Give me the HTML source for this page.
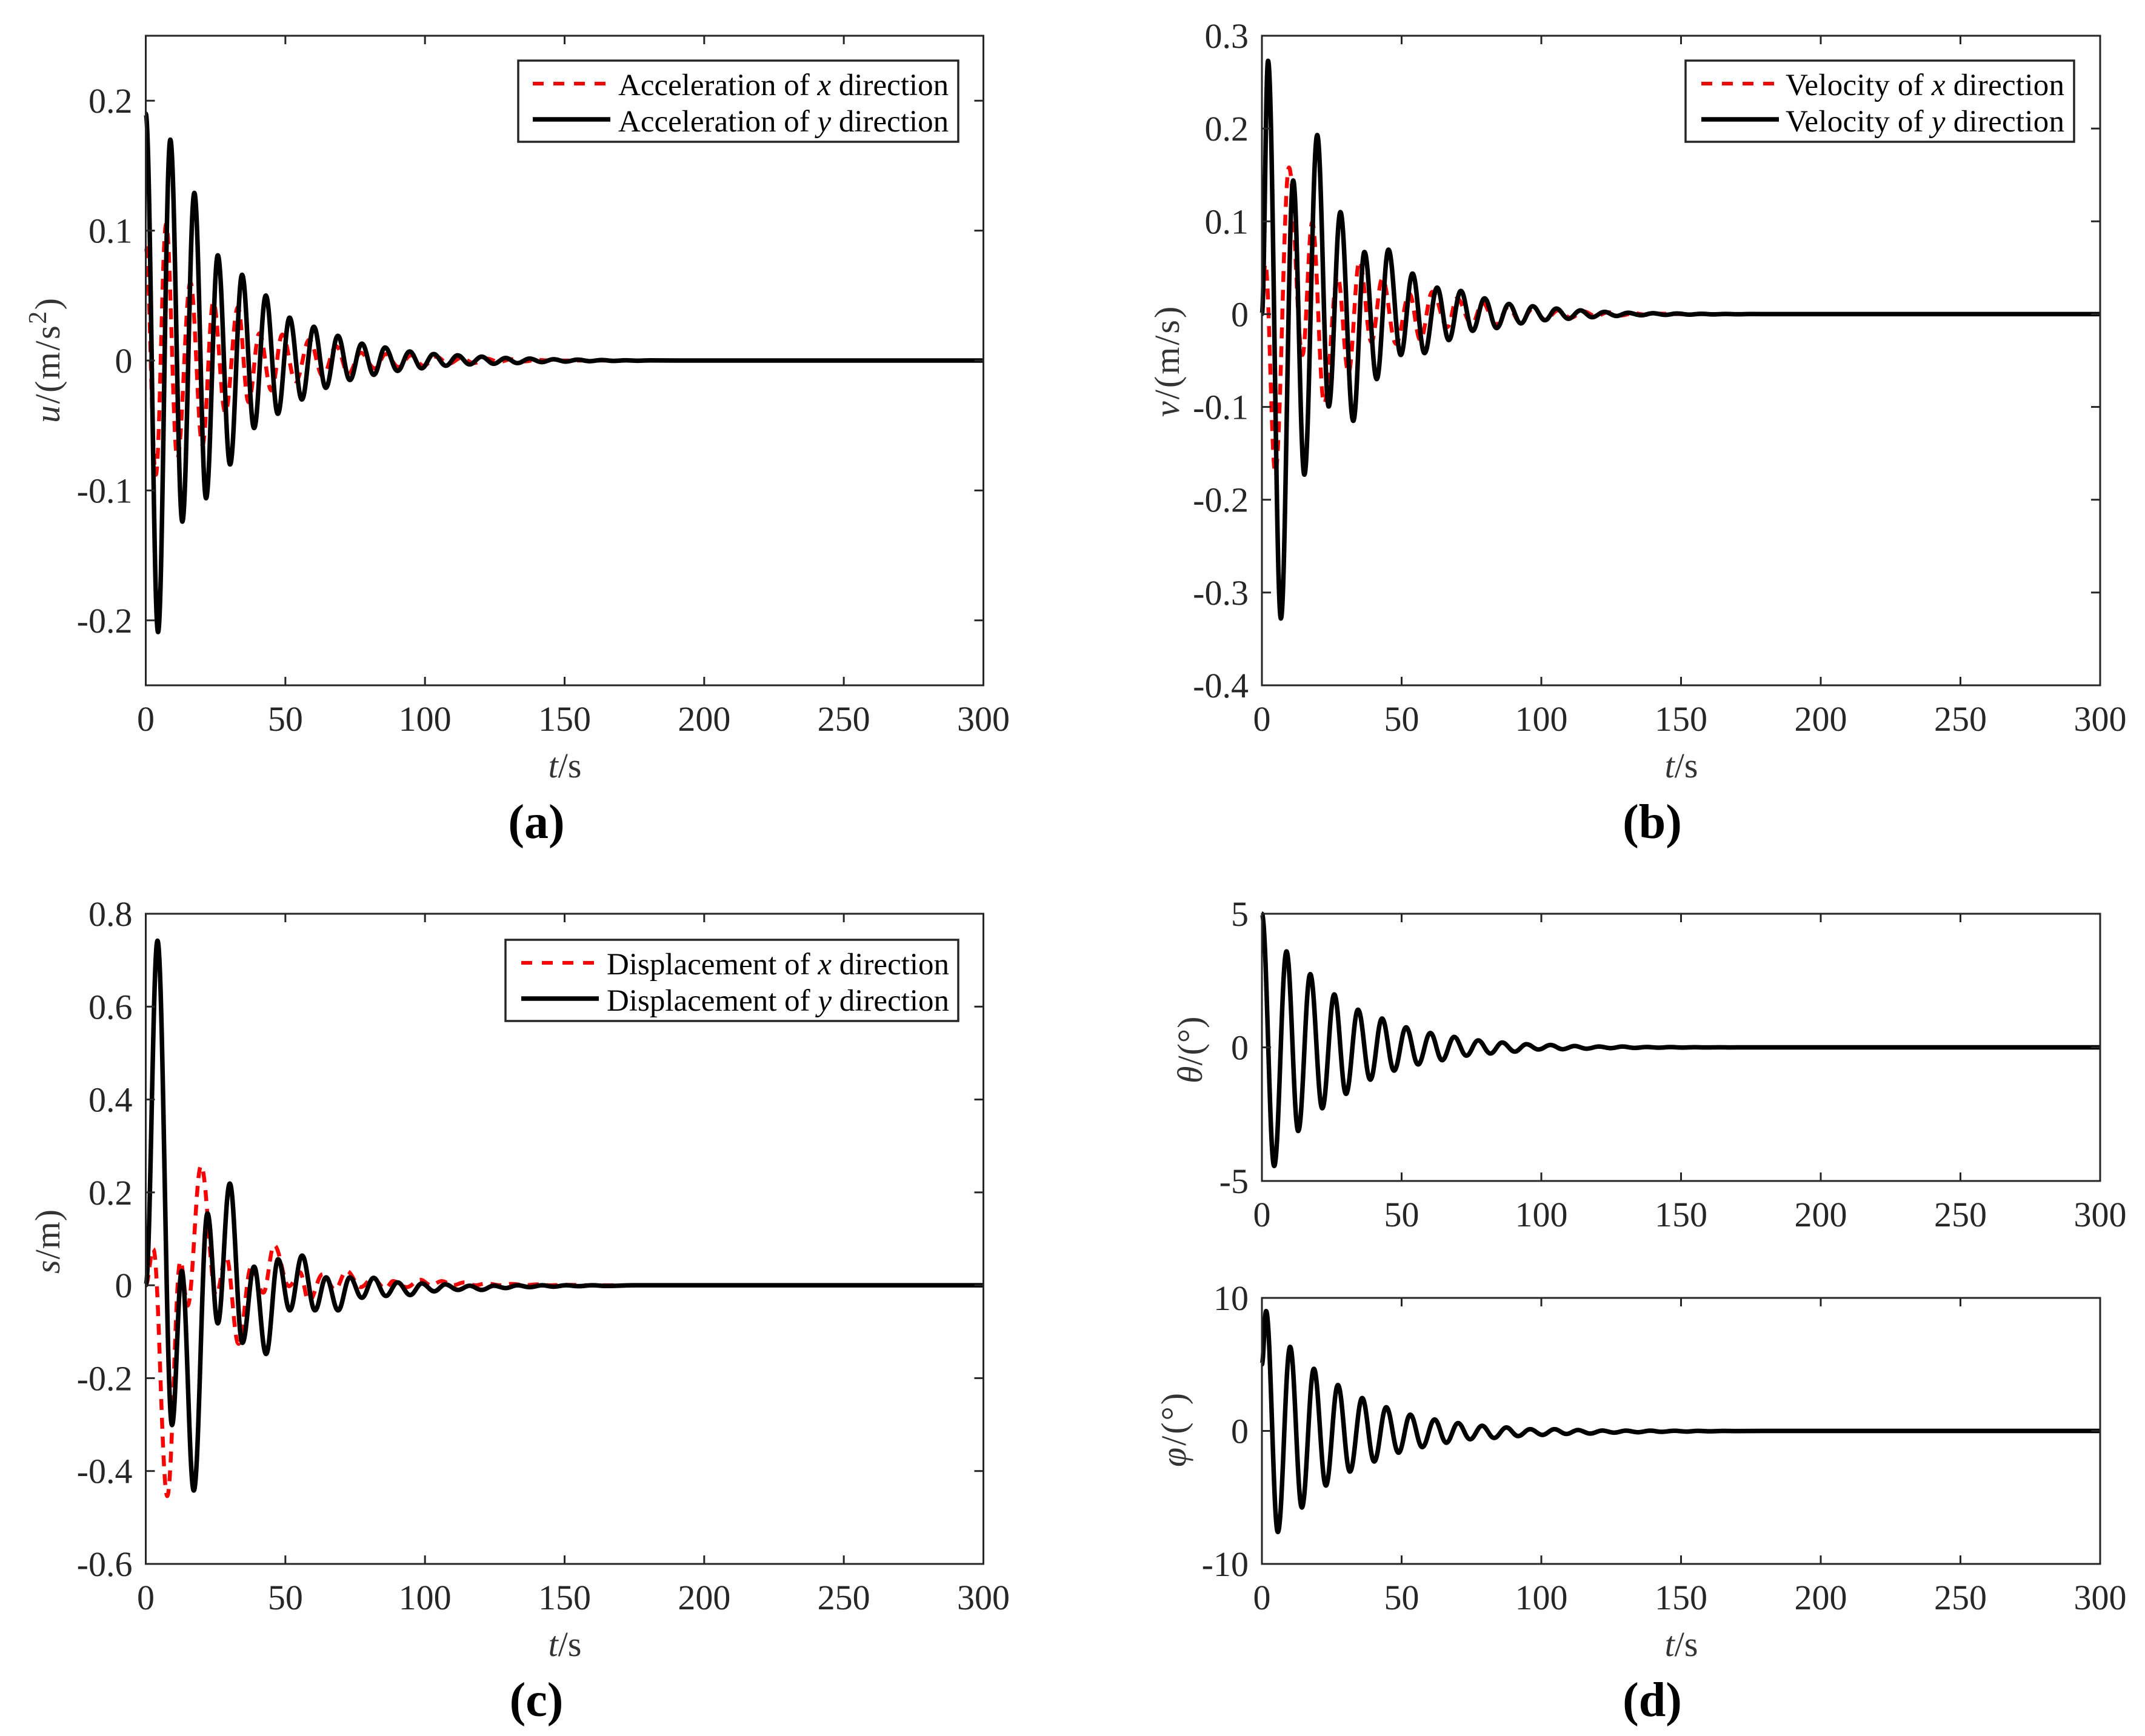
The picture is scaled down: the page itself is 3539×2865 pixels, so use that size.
<!DOCTYPE html>
<html lang="en">
<head>
<meta charset="utf-8">
<title>Damped oscillation responses</title>
<style>
html,body{margin:0;padding:0;background:#fff}
svg{display:block}
text{font-family:"Liberation Serif","Times New Roman",serif}
.tick{font-size:58px;fill:#262626}
.lab{font-size:58px;fill:#333}
.leg{font-size:51px;fill:#000}
.cap{font-size:80px;font-weight:bold;fill:#000}
i,.it{font-style:italic}
</style>
</head>
<body>
<svg id="fig" xmlns="http://www.w3.org/2000/svg" width="3539" height="2865" viewBox="0 0 3539 2865">
<rect x="0" y="0" width="3539" height="2865" fill="#fff"/>
<g id="marks"></g>

<g>
<rect x="855" y="100" width="726" height="134" fill="#fff" stroke="#262626" stroke-width="3.5"/>
<line x1="879" x2="1002" y1="138" y2="138" stroke="#f00" stroke-width="6" stroke-dasharray="18 16"/>
<line x1="879" x2="1007" y1="197" y2="197" stroke="#000" stroke-width="7.5"/>
<text class="leg" x="1020" y="157">Acceleration of <tspan class="it">x</tspan> direction</text>
<text class="leg" x="1020" y="217">Acceleration of <tspan class="it">y</tspan> direction</text>
</g>
<g>
<rect x="2781" y="100" width="641" height="134" fill="#fff" stroke="#262626" stroke-width="3.5"/>
<line x1="2807" x2="2927" y1="138" y2="138" stroke="#f00" stroke-width="6" stroke-dasharray="18 16"/>
<line x1="2807" x2="2935" y1="197" y2="197" stroke="#000" stroke-width="7.5"/>
<text class="leg" x="2946" y="157" textLength="460" lengthAdjust="spacing">Velocity of <tspan class="it">x</tspan> direction</text>
<text class="leg" x="2946" y="217" textLength="460" lengthAdjust="spacing">Velocity of <tspan class="it">y</tspan> direction</text>
</g>
<g>
<rect x="834" y="1551" width="747" height="134" fill="#fff" stroke="#262626" stroke-width="3.5"/>
<line x1="860" x2="983" y1="1589" y2="1589" stroke="#f00" stroke-width="6" stroke-dasharray="18 16"/>
<line x1="860" x2="988" y1="1648" y2="1648" stroke="#000" stroke-width="7.5"/>
<text class="leg" x="1001" y="1608">Displacement of <tspan class="it">x</tspan> direction</text>
<text class="leg" x="1001" y="1668">Displacement of <tspan class="it">y</tspan> direction</text>
</g>

<text class="lab" letter-spacing="2.5" transform="translate(98 698) rotate(-90)"><tspan class="it">u</tspan>/(m/s<tspan dy="-22" font-size="42">2</tspan><tspan dy="22">)</tspan></text>
<text class="lab" letter-spacing="3" transform="translate(1945 688) rotate(-90)"><tspan class="it">v</tspan>/(m/s)</text>
<text class="lab" letter-spacing="1" transform="translate(98 2102) rotate(-90)"><tspan class="it">s</tspan>/m)</text>
<text class="lab" letter-spacing="1" transform="translate(1983 1788) rotate(-90)"><tspan class="it">θ</tspan>/(°)</text>
<text class="lab" letter-spacing="3" transform="translate(1956 2421) rotate(-90)"><tspan class="it">φ</tspan>/(°)</text>

<text class="lab" text-anchor="middle" x="932" y="1283"><tspan class="it">t</tspan>/s</text>
<text class="lab" text-anchor="middle" x="2774" y="1283"><tspan class="it">t</tspan>/s</text>
<text class="lab" text-anchor="middle" x="932" y="2733"><tspan class="it">t</tspan>/s</text>
<text class="lab" text-anchor="middle" x="2774" y="2733"><tspan class="it">t</tspan>/s</text>

<text class="cap" text-anchor="middle" x="885" y="1383">(a)</text>
<text class="cap" text-anchor="middle" x="2726" y="1383">(b)</text>
<text class="cap" text-anchor="middle" x="885" y="2832">(c)</text>
<text class="cap" text-anchor="middle" x="2726" y="2832">(d)</text>
</svg>

<script>
/* Shared x axis */
const xTickLabels = [0, 50, 100, 150, 200, 250, 300];

/* Panel (a): acceleration, turning points */
const accelYTicks = [-0.2, -0.1, 0, 0.1, 0.2];
const accelXTimes = [0,3.6,7.3,11.3,16,20.3,24.2,28.5,33,36.8,40.7,45,48.9,53.7,58.6,63.4,68.2,72.6,77,82,86,90.5,95,99.5,104,108.5,113,117.5,122,126.5,131,135.5,140,145,300];
const accelXValues = [0.087,-0.088,0.105,-0.075,0.06,-0.065,0.045,-0.04,0.041,-0.032,0.021,-0.023,0.02,-0.016,0.016,-0.012,0.011,-0.01,0.006,-0.006,0.005,-0.005,0.004,-0.004,0.003,-0.0025,0.002,-0.002,0.0015,-0.001,0.001,-0.0007,0.0005,0,0];
const accelYTimes = [0,4.4,8.8,13.1,17.4,21.6,25.8,30.2,34.5,38.8,43,47.3,51.5,55.9,60.2,64.5,68.8,73.1,77.4,81.7,85.7,90.2,94.5,98.8,103.1,107.5,111.7,116,120.3,124.6,128.9,133.1,137.5,141.8,146.1,150.4,154.7,159,163.3,167.6,171.9,176.2,180.5,190,300];
const accelYValues = [0.19,-0.209,0.17,-0.124,0.129,-0.106,0.081,-0.08,0.066,-0.052,0.05,-0.041,0.033,-0.03,0.026,-0.021,0.019,-0.015,0.013,-0.011,0.01,-0.008,0.007,-0.006,0.005,-0.004,0.004,-0.003,0.003,-0.0025,0.002,-0.002,0.0015,-0.0012,0.001,-0.0008,0.0007,-0.0005,0.0004,-0.0003,0.0002,-0.00015,0.0001,0,0];

/* Panel (b): velocity */
const velYTicks = [-0.4, -0.3, -0.2, -0.1, 0, 0.1, 0.2, 0.3];
const velXTimes = [0,1.2,4.8,9.7,14.5,18,22.3,27.1,31,34.9,39.2,43.1,48,52.8,56.7,61,66.4,69.8,75.1,79,83.8,88.2,92.5,97,101.5,106,110.5,115,119.5,124,128.5,133,137.5,142,150,300];
const velXValues = [0,0.054,-0.171,0.158,-0.044,0.099,-0.096,0.04,-0.063,0.057,-0.03,0.038,-0.032,0.022,-0.028,0.024,-0.014,0.017,-0.011,0.012,-0.011,0.0075,-0.009,0.006,-0.006,0.004,-0.004,0.003,-0.002,0.002,-0.0015,0.001,-0.0007,0.0005,0,0];
const velYTimes = [0,2.2,6.8,11.2,15.2,19.8,23.9,28.1,32.7,36.7,41.1,45.3,49.7,53.9,58.2,62.7,66.9,71.2,75.4,79.7,84,88.4,92.7,96.9,101.3,105.4,109.7,114,118.2,122.6,126.9,131,135.7,140,144.3,148.6,153,157.3,161.6,166,170,175,185,300];
const velYValues = [0,0.273,-0.328,0.144,-0.173,0.193,-0.0995,0.11,-0.115,0.067,-0.07,0.0695,-0.044,0.0437,-0.042,0.0286,-0.028,0.025,-0.018,0.017,-0.015,0.011,-0.01,0.0085,-0.0066,0.006,-0.005,0.004,-0.0033,0.0025,-0.002,0.0015,-0.0012,0.001,-0.0008,0.0007,-0.0005,0.0004,-0.0003,0.0002,-0.00015,0.0001,0,0];

/* Panel (c): displacement */
const dispYTicks = [-0.6, -0.4, -0.2, 0, 0.2, 0.4, 0.6, 0.8];
const dispXTimes = [0,2.7,7.7,12.4,15,19.8,25.2,28.8,33.2,37.8,42.1,46,51.3,55.2,58.4,63.4,67.8,71.9,77,81.3,85.8,88.6,93.5,98.3,102.2,106,110,114,118,122,127,131,136,140,145,150,160,300];
const dispXValues = [0,0.078,-0.454,0.052,-0.044,0.257,-0.021,0.062,-0.126,0.04,-0.016,0.086,-0.002,0.028,-0.035,0.024,-0.009,0.031,-0.004,0.015,-0.007,0.009,-0.004,0.012,0,0.009,0,0.006,0,0.004,0,0.003,0,0.002,0,0.001,0,0];
const dispYTimes = [0,4.2,9.4,12.9,17.2,22.1,25.8,30.1,34.6,38.8,43.1,47.4,51.6,56,60.6,64.6,68.9,73.1,77.4,81.6,86,90.2,94.7,98.9,103.3,107.3,111.8,116,120.3,124.7,128.9,133.1,137.5,142,146,150.5,155,160,165,175,300];
const dispYValues = [0,0.742,-0.301,0.031,-0.442,0.155,-0.082,0.219,-0.124,0.04,-0.148,0.056,-0.054,0.064,-0.054,0.017,-0.054,0.017,-0.027,0.016,-0.023,0.006,-0.021,0.004,-0.013,0.002,-0.01,-0.001,-0.01,-0.001,-0.006,0,-0.004,0,-0.003,0,-0.002,0,-0.0015,0,0];

/* Panel (d), upper: theta */
const thetaYTicks = [-5, 0, 5];
const thetaTimes = [0,4.4,8.8,13,17.3,21.6,25.9,30.1,34.4,38.8,43,47.3,51.6,55.9,60.3,64.5,68.8,73.2,77.4,81.8,86,90.5,94.7,99,103.3,107.6,111.9,116.2,120.6,124.9,129,133.4,137.7,142,146.3,150.6,155,159,164,168,172,180,300];
const thetaValues = [5,-4.44,3.59,-3.13,2.74,-2.28,1.98,-1.74,1.41,-1.21,1.08,-0.87,0.75,-0.64,0.54,-0.48,0.39,-0.31,0.26,-0.23,0.18,-0.16,0.12,-0.08,0.09,-0.07,0.05,-0.05,0.03,-0.03,0.03,-0.02,0.015,-0.012,0.01,-0.008,0.006,-0.004,0.003,-0.002,0.001,0,0];

/* Panel (d), lower: phi */
const phiYTicks = [-10, 0, 10];
const phiTimes = [0,1.5,5.7,10.1,14.3,18.6,22.9,27.2,31.5,35.9,40.2,44.5,48.9,53.1,57.4,61.8,66,70.2,74.5,78.8,83.1,87.5,91.7,96,100.4,104.7,109,113.1,117.5,121.8,126.1,130.3,134.6,139,143,147.5,152,156,160,165,170,180,300];
const phiValues = [5,9.01,-7.6,6.32,-5.76,4.67,-4.11,3.45,-3.06,2.47,-2.3,1.78,-1.64,1.22,-1.22,0.86,-0.89,0.59,-0.63,0.39,-0.53,0.26,-0.39,0.13,-0.3,0.13,-0.23,0.07,-0.2,0.03,-0.13,0.02,-0.1,0.02,-0.07,0.01,-0.05,0.005,-0.03,0,-0.01,0,0];

const SVGNS = 'http://www.w3.org/2000/svg';
const root = document.getElementById('marks');

function make(tag, attrs, parent) {
  const node = document.createElementNS(SVGNS, tag);
  for (const k in attrs) node.setAttribute(k, attrs[k]);
  parent.appendChild(node);
  return node;
}

function linear(d0, d1, r0, r1) {
  return function (v) { return r0 + (v - d0) * (r1 - r0) / (d1 - d0); };
}

/* Smooth curve through the read turning points: flat tangents at each one */
function curve(times, values, sx, sy) {
  let d = 'M' + sx(times[0]).toFixed(2) + ' ' + sy(values[0]).toFixed(2);
  for (let i = 1; i < times.length; i++) {
    const x0 = sx(times[i - 1]);
    const x1 = sx(times[i]);
    const h = (x1 - x0) * 0.38;
    d += 'C' + (x0 + h).toFixed(2) + ' ' + sy(values[i - 1]).toFixed(2) + ' ' +
         (x1 - h).toFixed(2) + ' ' + sy(values[i]).toFixed(2) + ' ' +
         x1.toFixed(2) + ' ' + sy(values[i]).toFixed(2);
  }
  return d;
}

function panel(name, box, yDomain, yTicks, series) {
  const g = make('g', {}, root);
  
  

  const sx = linear(0, 300, box.l, box.r);
  const sy = linear(yDomain[0], yDomain[1], box.b, box.t);

  series.forEach(function (s) {
    const attrs = {
      d: curve(s.times, s.values, sx, sy),
      fill: 'none',
      stroke: s.color,
      'stroke-width': s.width,
      'stroke-linejoin': 'round'
    };
    if (s.dash) attrs['stroke-dasharray'] = s.dash;
    const line = make('path', attrs, g);
    
    
  });

  xTickLabels.forEach(function (v) {
    const x = sx(v);
    const t1 = make('line', { x1: x, x2: x, y1: box.b, y2: box.b - 14, stroke: '#262626', 'stroke-width': 3 }, g);
    
    
    const t2 = make('line', { x1: x, x2: x, y1: box.t, y2: box.t + 14, stroke: '#262626', 'stroke-width': 3 }, g);
    
    
    const lab = make('text', { x: x, y: box.b + 75, 'text-anchor': 'middle', class: 'tick' }, g);
    lab.textContent = String(v);
    
    
  });

  yTicks.forEach(function (v) {
    const y = sy(v);
    const t1 = make('line', { x1: box.l, x2: box.l + 15, y1: y, y2: y, stroke: '#262626', 'stroke-width': 3 }, g);
    
    
    const t2 = make('line', { x1: box.r, x2: box.r - 15, y1: y, y2: y, stroke: '#262626', 'stroke-width': 3 }, g);
    
    
    const lab = make('text', { x: box.l - 22, y: y + 20, 'text-anchor': 'end', class: 'tick' }, g);
    lab.textContent = String(v);
    
    
  });

  const frame = make('rect', { x: box.l, y: box.t, width: box.r - box.l, height: box.b - box.t, fill: 'none', stroke: '#262626', 'stroke-width': 3 }, g);
  
  
}

const RED = { color: '#f00', width: 6.5, dash: '18 13' };
const BLACK = { color: '#000', width: 7.5 };

panel('a', { l: 240.5, r: 1622.5, t: 59, b: 1131 }, [-0.25, 0.25], accelYTicks, [
  Object.assign({ key: 'x', times: accelXTimes, values: accelXValues }, RED),
  Object.assign({ key: 'y', times: accelYTimes, values: accelYValues }, BLACK)
]);
panel('b', { l: 2082, r: 3465, t: 59, b: 1131 }, [-0.4, 0.3], velYTicks, [
  Object.assign({ key: 'x', times: velXTimes, values: velXValues }, RED),
  Object.assign({ key: 'y', times: velYTimes, values: velYValues }, BLACK)
]);
panel('c', { l: 240.5, r: 1622.5, t: 1508, b: 2581 }, [-0.6, 0.8], dispYTicks, [
  Object.assign({ key: 'x', times: dispXTimes, values: dispXValues }, RED),
  Object.assign({ key: 'y', times: dispYTimes, values: dispYValues }, BLACK)
]);
panel('d-theta', { l: 2082, r: 3465, t: 1508, b: 1949 }, [-5, 5], thetaYTicks, [
  Object.assign({ key: 'theta', times: thetaTimes, values: thetaValues }, BLACK)
]);
panel('d-phi', { l: 2082, r: 3465, t: 2142, b: 2581 }, [-10, 10], phiYTicks, [
  Object.assign({ key: 'phi', times: phiTimes, values: phiValues }, BLACK)
]);
</script>
</body>
</html>
